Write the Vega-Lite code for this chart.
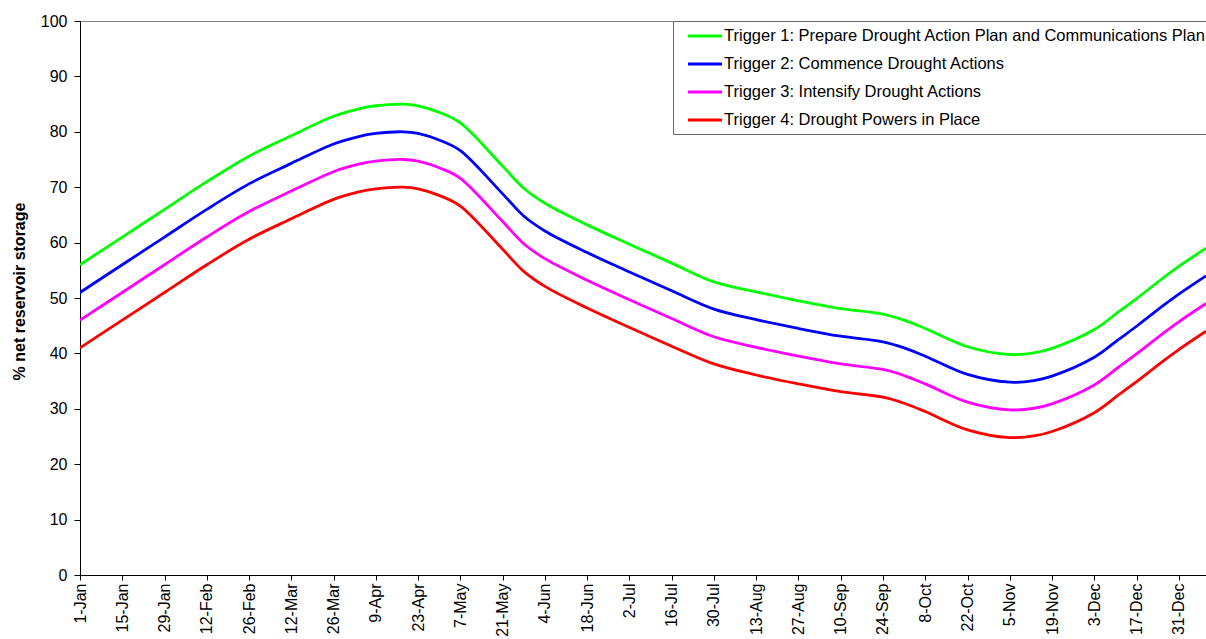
{
  "$schema": "https://vega.github.io/schema/vega-lite/v6.json",
  "width": 1126,
  "height": 554,
  "autosize": "none",
  "padding": {"left": 80, "top": 21, "right": 0, "bottom": 64},
  "background": "white",
  "config": {
    "font": "Liberation Sans",
    "view": {"stroke": "#808080", "strokeWidth": 1}
  },
  "data": {
    "values": [
      {"date": "2010-01-01", "Trigger 1: Prepare Drought Action Plan and Communications Plan": 56.0, "Trigger 2: Commence Drought Actions": 51.0, "Trigger 3: Intensify Drought Actions": 46.0, "Trigger 4: Drought Powers in Place": 41.0},
      {"date": "2010-01-15", "Trigger 1: Prepare Drought Action Plan and Communications Plan": 61.0, "Trigger 2: Commence Drought Actions": 56.0, "Trigger 3: Intensify Drought Actions": 51.0, "Trigger 4: Drought Powers in Place": 46.0},
      {"date": "2010-01-29", "Trigger 1: Prepare Drought Action Plan and Communications Plan": 66.0, "Trigger 2: Commence Drought Actions": 61.0, "Trigger 3: Intensify Drought Actions": 56.0, "Trigger 4: Drought Powers in Place": 51.0},
      {"date": "2010-02-12", "Trigger 1: Prepare Drought Action Plan and Communications Plan": 71.0, "Trigger 2: Commence Drought Actions": 66.0, "Trigger 3: Intensify Drought Actions": 61.0, "Trigger 4: Drought Powers in Place": 56.0},
      {"date": "2010-02-26", "Trigger 1: Prepare Drought Action Plan and Communications Plan": 75.6, "Trigger 2: Commence Drought Actions": 70.6, "Trigger 3: Intensify Drought Actions": 65.6, "Trigger 4: Drought Powers in Place": 60.6},
      {"date": "2010-03-12", "Trigger 1: Prepare Drought Action Plan and Communications Plan": 79.3, "Trigger 2: Commence Drought Actions": 74.3, "Trigger 3: Intensify Drought Actions": 69.3, "Trigger 4: Drought Powers in Place": 64.3},
      {"date": "2010-03-26", "Trigger 1: Prepare Drought Action Plan and Communications Plan": 82.8, "Trigger 2: Commence Drought Actions": 77.8, "Trigger 3: Intensify Drought Actions": 72.8, "Trigger 4: Drought Powers in Place": 67.8},
      {"date": "2010-04-03", "Trigger 1: Prepare Drought Action Plan and Communications Plan": 84.1, "Trigger 2: Commence Drought Actions": 79.1, "Trigger 3: Intensify Drought Actions": 74.1, "Trigger 4: Drought Powers in Place": 69.1},
      {"date": "2010-04-09", "Trigger 1: Prepare Drought Action Plan and Communications Plan": 84.7, "Trigger 2: Commence Drought Actions": 79.7, "Trigger 3: Intensify Drought Actions": 74.7, "Trigger 4: Drought Powers in Place": 69.7},
      {"date": "2010-04-18", "Trigger 1: Prepare Drought Action Plan and Communications Plan": 85.0, "Trigger 2: Commence Drought Actions": 80.0, "Trigger 3: Intensify Drought Actions": 75.0, "Trigger 4: Drought Powers in Place": 70.0},
      {"date": "2010-04-23", "Trigger 1: Prepare Drought Action Plan and Communications Plan": 84.7, "Trigger 2: Commence Drought Actions": 79.7, "Trigger 3: Intensify Drought Actions": 74.7, "Trigger 4: Drought Powers in Place": 69.7},
      {"date": "2010-05-01", "Trigger 1: Prepare Drought Action Plan and Communications Plan": 83.3, "Trigger 2: Commence Drought Actions": 78.3, "Trigger 3: Intensify Drought Actions": 73.3, "Trigger 4: Drought Powers in Place": 68.3},
      {"date": "2010-05-07", "Trigger 1: Prepare Drought Action Plan and Communications Plan": 81.6, "Trigger 2: Commence Drought Actions": 76.6, "Trigger 3: Intensify Drought Actions": 71.6, "Trigger 4: Drought Powers in Place": 66.6},
      {"date": "2010-05-21", "Trigger 1: Prepare Drought Action Plan and Communications Plan": 73.8, "Trigger 2: Commence Drought Actions": 68.8, "Trigger 3: Intensify Drought Actions": 63.8, "Trigger 4: Drought Powers in Place": 58.8},
      {"date": "2010-05-28", "Trigger 1: Prepare Drought Action Plan and Communications Plan": 69.8, "Trigger 2: Commence Drought Actions": 64.8, "Trigger 3: Intensify Drought Actions": 59.8, "Trigger 4: Drought Powers in Place": 54.8},
      {"date": "2010-06-04", "Trigger 1: Prepare Drought Action Plan and Communications Plan": 67.1, "Trigger 2: Commence Drought Actions": 62.1, "Trigger 3: Intensify Drought Actions": 57.1, "Trigger 4: Drought Powers in Place": 52.1},
      {"date": "2010-06-18", "Trigger 1: Prepare Drought Action Plan and Communications Plan": 63.2, "Trigger 2: Commence Drought Actions": 58.2, "Trigger 3: Intensify Drought Actions": 53.2, "Trigger 4: Drought Powers in Place": 48.2},
      {"date": "2010-07-02", "Trigger 1: Prepare Drought Action Plan and Communications Plan": 59.7, "Trigger 2: Commence Drought Actions": 54.7, "Trigger 3: Intensify Drought Actions": 49.7, "Trigger 4: Drought Powers in Place": 44.7},
      {"date": "2010-07-16", "Trigger 1: Prepare Drought Action Plan and Communications Plan": 56.3, "Trigger 2: Commence Drought Actions": 51.3, "Trigger 3: Intensify Drought Actions": 46.3, "Trigger 4: Drought Powers in Place": 41.3},
      {"date": "2010-07-30", "Trigger 1: Prepare Drought Action Plan and Communications Plan": 52.9, "Trigger 2: Commence Drought Actions": 48.0, "Trigger 3: Intensify Drought Actions": 43.0, "Trigger 4: Drought Powers in Place": 38.1},
      {"date": "2010-08-13", "Trigger 1: Prepare Drought Action Plan and Communications Plan": 51.1, "Trigger 2: Commence Drought Actions": 46.1, "Trigger 3: Intensify Drought Actions": 41.1, "Trigger 4: Drought Powers in Place": 36.1},
      {"date": "2010-08-27", "Trigger 1: Prepare Drought Action Plan and Communications Plan": 49.5, "Trigger 2: Commence Drought Actions": 44.5, "Trigger 3: Intensify Drought Actions": 39.5, "Trigger 4: Drought Powers in Place": 34.5},
      {"date": "2010-09-10", "Trigger 1: Prepare Drought Action Plan and Communications Plan": 48.1, "Trigger 2: Commence Drought Actions": 43.1, "Trigger 3: Intensify Drought Actions": 38.1, "Trigger 4: Drought Powers in Place": 33.1},
      {"date": "2010-09-24", "Trigger 1: Prepare Drought Action Plan and Communications Plan": 47.1, "Trigger 2: Commence Drought Actions": 42.1, "Trigger 3: Intensify Drought Actions": 37.1, "Trigger 4: Drought Powers in Place": 32.1},
      {"date": "2010-10-01", "Trigger 1: Prepare Drought Action Plan and Communications Plan": 46.0, "Trigger 2: Commence Drought Actions": 41.0, "Trigger 3: Intensify Drought Actions": 36.0, "Trigger 4: Drought Powers in Place": 31.0},
      {"date": "2010-10-08", "Trigger 1: Prepare Drought Action Plan and Communications Plan": 44.5, "Trigger 2: Commence Drought Actions": 39.5, "Trigger 3: Intensify Drought Actions": 34.5, "Trigger 4: Drought Powers in Place": 29.5},
      {"date": "2010-10-22", "Trigger 1: Prepare Drought Action Plan and Communications Plan": 41.2, "Trigger 2: Commence Drought Actions": 36.2, "Trigger 3: Intensify Drought Actions": 31.2, "Trigger 4: Drought Powers in Place": 26.2},
      {"date": "2010-11-05", "Trigger 1: Prepare Drought Action Plan and Communications Plan": 39.8, "Trigger 2: Commence Drought Actions": 34.8, "Trigger 3: Intensify Drought Actions": 29.8, "Trigger 4: Drought Powers in Place": 24.8},
      {"date": "2010-11-13", "Trigger 1: Prepare Drought Action Plan and Communications Plan": 40.1, "Trigger 2: Commence Drought Actions": 35.1, "Trigger 3: Intensify Drought Actions": 30.1, "Trigger 4: Drought Powers in Place": 25.1},
      {"date": "2010-11-19", "Trigger 1: Prepare Drought Action Plan and Communications Plan": 40.9, "Trigger 2: Commence Drought Actions": 35.9, "Trigger 3: Intensify Drought Actions": 30.9, "Trigger 4: Drought Powers in Place": 25.9},
      {"date": "2010-12-03", "Trigger 1: Prepare Drought Action Plan and Communications Plan": 44.3, "Trigger 2: Commence Drought Actions": 39.3, "Trigger 3: Intensify Drought Actions": 34.3, "Trigger 4: Drought Powers in Place": 29.3},
      {"date": "2010-12-11", "Trigger 1: Prepare Drought Action Plan and Communications Plan": 47.5, "Trigger 2: Commence Drought Actions": 42.5, "Trigger 3: Intensify Drought Actions": 37.5, "Trigger 4: Drought Powers in Place": 32.5},
      {"date": "2010-12-17", "Trigger 1: Prepare Drought Action Plan and Communications Plan": 49.9, "Trigger 2: Commence Drought Actions": 44.9, "Trigger 3: Intensify Drought Actions": 39.9, "Trigger 4: Drought Powers in Place": 34.9},
      {"date": "2010-12-26", "Trigger 1: Prepare Drought Action Plan and Communications Plan": 53.7, "Trigger 2: Commence Drought Actions": 48.7, "Trigger 3: Intensify Drought Actions": 43.7, "Trigger 4: Drought Powers in Place": 38.7},
      {"date": "2010-12-31", "Trigger 1: Prepare Drought Action Plan and Communications Plan": 55.7, "Trigger 2: Commence Drought Actions": 50.7, "Trigger 3: Intensify Drought Actions": 45.7, "Trigger 4: Drought Powers in Place": 40.7},
      {"date": "2011-01-09", "Trigger 1: Prepare Drought Action Plan and Communications Plan": 59.0, "Trigger 2: Commence Drought Actions": 54.0, "Trigger 3: Intensify Drought Actions": 49.0, "Trigger 4: Drought Powers in Place": 44.0}
    ]
  },
  "transform": [
    {"fold": ["Trigger 1: Prepare Drought Action Plan and Communications Plan", "Trigger 2: Commence Drought Actions", "Trigger 3: Intensify Drought Actions", "Trigger 4: Drought Powers in Place"], "as": ["series", "value"]}
  ],
  "mark": {"type": "line", "strokeWidth": 2.8, "interpolate": "catmull-rom", "clip": true},
  "encoding": {
    "x": {
      "field": "date",
      "type": "temporal",
      "scale": {
        "type": "utc",
        "nice": false,
        "domain": [{"year": 2010, "month": 1, "date": 1, "utc": true}, {"year": 2011, "month": 1, "date": 9, "utc": true}]
      },
      "axis": {
        "title": null,
        "grid": false,
        "format": "%-d-%b",
        "labelAngle": 270,
        "labelFontSize": 16,
        "labelColor": "#000",
        "labelPadding": 3,
        "labelOverlap": false,
        "labelFlush": false,
        "labelBound": false,
        "tickSize": 5,
        "tickColor": "#000",
        "domainColor": "#000",
        "values": [
          {"year": 2010, "month": 1, "date": 1, "utc": true},
          {"year": 2010, "month": 1, "date": 15, "utc": true},
          {"year": 2010, "month": 1, "date": 29, "utc": true},
          {"year": 2010, "month": 2, "date": 12, "utc": true},
          {"year": 2010, "month": 2, "date": 26, "utc": true},
          {"year": 2010, "month": 3, "date": 12, "utc": true},
          {"year": 2010, "month": 3, "date": 26, "utc": true},
          {"year": 2010, "month": 4, "date": 9, "utc": true},
          {"year": 2010, "month": 4, "date": 23, "utc": true},
          {"year": 2010, "month": 5, "date": 7, "utc": true},
          {"year": 2010, "month": 5, "date": 21, "utc": true},
          {"year": 2010, "month": 6, "date": 4, "utc": true},
          {"year": 2010, "month": 6, "date": 18, "utc": true},
          {"year": 2010, "month": 7, "date": 2, "utc": true},
          {"year": 2010, "month": 7, "date": 16, "utc": true},
          {"year": 2010, "month": 7, "date": 30, "utc": true},
          {"year": 2010, "month": 8, "date": 13, "utc": true},
          {"year": 2010, "month": 8, "date": 27, "utc": true},
          {"year": 2010, "month": 9, "date": 10, "utc": true},
          {"year": 2010, "month": 9, "date": 24, "utc": true},
          {"year": 2010, "month": 10, "date": 8, "utc": true},
          {"year": 2010, "month": 10, "date": 22, "utc": true},
          {"year": 2010, "month": 11, "date": 5, "utc": true},
          {"year": 2010, "month": 11, "date": 19, "utc": true},
          {"year": 2010, "month": 12, "date": 3, "utc": true},
          {"year": 2010, "month": 12, "date": 17, "utc": true},
          {"year": 2010, "month": 12, "date": 31, "utc": true}
        ]
      }
    },
    "y": {
      "field": "value",
      "type": "quantitative",
      "scale": {"domain": [0, 100], "nice": false},
      "axis": {
        "title": "% net reservoir storage",
        "titleFontSize": 16,
        "titleFontWeight": "bold",
        "titleColor": "#000",
        "titleAngle": 270,
        "titleAlign": "center",
        "titleBaseline": "middle",
        "titleX": -61,
        "titleY": 270,
        "grid": false,
        "values": [0, 10, 20, 30, 40, 50, 60, 70, 80, 90, 100],
        "labelFontSize": 16,
        "labelColor": "#000",
        "labelPadding": 7,
        "tickSize": 6,
        "tickColor": "#000",
        "domainColor": "#000"
      }
    },
    "color": {
      "field": "series",
      "type": "nominal",
      "scale": {
        "domain": ["Trigger 1: Prepare Drought Action Plan and Communications Plan", "Trigger 2: Commence Drought Actions", "Trigger 3: Intensify Drought Actions", "Trigger 4: Drought Powers in Place"],
        "range": ["#00ff00", "#0000ff", "#ff00ff", "#ff0000"]
      },
      "legend": {
        "title": null,
        "orient": "none",
        "legendX": 593,
        "legendY": 0,
        "symbolType": "M-2,0H2",
        "symbolSize": 289,
        "symbolStrokeWidth": 3,
        "symbolOffset": 17,
        "labelOffset": 9,
        "padding": 5,
        "rowPadding": 9,
        "labelFontSize": 16.5,
        "labelColor": "#000",
        "labelLimit": 1000,
        "strokeColor": "#666",
        "fillColor": "#fff",
        "cornerRadius": 0
      }
    }
  }
}
